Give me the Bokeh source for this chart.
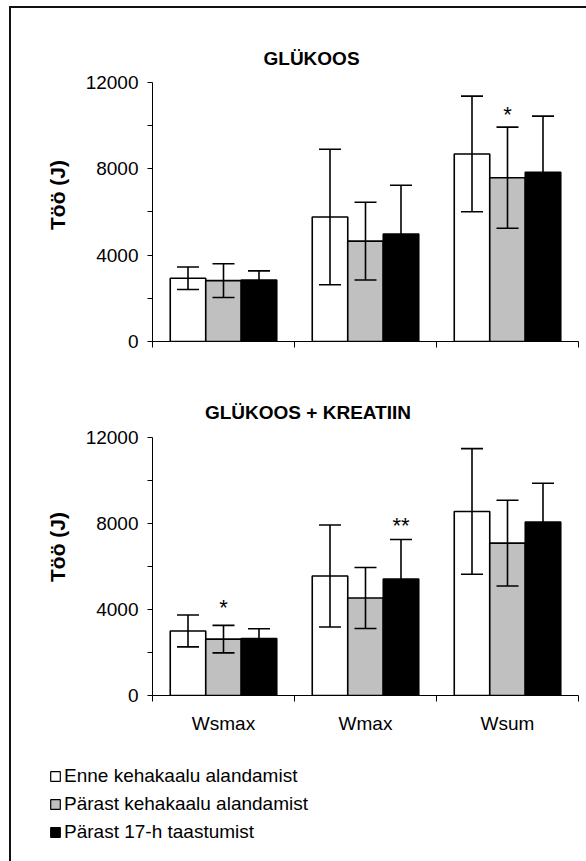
from bokeh.plotting import figure
from bokeh.models import (Range1d, FixedTicker, ColumnDataSource, Whisker, TeeHead,
                          Legend, LegendItem)
from bokeh.layouts import column
from bokeh.embed import file_html
from bokeh.resources import INLINE
from bokeh.core.properties import value

# ---------------- data ----------------
categories = ["Wsmax", "Wmax", "Wsum"]
series_names = ["Enne kehakaalu alandamist",
                "Pärast kehakaalu alandamist",
                "Pärast 17-h taastumist"]
panel_titles = ["GLÜKOOS", "GLÜKOOS + KREATIIN"]
y_axis_title = "Töö (J)"
y_major_ticks = [0, 4000, 8000, 12000]
y_minor_ticks = [2000, 6000, 10000]

# GLÜKOOS
gluc_enne = [2930, 5770, 8690]
gluc_enne_sd = [520, 3140, 2680]
gluc_parast = [2820, 4650, 7590]
gluc_parast_sd = [780, 1800, 2340]
gluc_taast = [2850, 4980, 7840]
gluc_taast_sd = [420, 2260, 2600]

# GLÜKOOS + KREATIIN
krea_enne = [3000, 5550, 8550]
krea_enne_sd = [740, 2370, 2920]
krea_parast = [2620, 4530, 7080]
krea_parast_sd = [640, 1420, 1990]
krea_taast = [2650, 5410, 8060]
krea_taast_sd = [450, 1840, 1800]

# significance marks: (category index, series index, text, y value)
gluc_marks = [(2, 1, "*", 10540)]
krea_marks = [(0, 1, "*", 4110), (1, 2, "**", 7900)]

# ---------------- style ----------------
FONT = "Liberation Sans"
COLORS = ["#ffffff", "#c0c0c0", "#000000"]
OFFSETS = [-0.25, 0.0, 0.25]
BAR_W = 0.25
W = 575


def make_panel(title, title_x, title_y, y_end, means, sds, marks, height, top, bottom, labels):
    p = figure(width=W, height=height, x_range=Range1d(0, len(categories)),
               y_range=Range1d(0, y_end), output_backend="svg", toolbar_location=None,
               min_border_left=141, min_border_right=8, min_border_top=top,
               min_border_bottom=bottom)
    p.outline_line_color = None
    p.grid.grid_line_color = None
    p.background_fill_color = "white"
    p.border_fill_color = "white"

    for s in range(len(series_names)):
        xs = [i + 0.5 + OFFSETS[s] for i in range(len(categories))]
        src = ColumnDataSource(dict(
            x=xs, top=means[s],
            upper=[m + d for m, d in zip(means[s], sds[s])],
            lower=[m - d for m, d in zip(means[s], sds[s])]))
        p.vbar(x="x", top="top", bottom=0, width=BAR_W, source=src,
               fill_color=COLORS[s], line_color="black", line_width=1.6)
        wk = Whisker(source=src, base="x", upper="upper", lower="lower",
                     line_color="black", line_width=1.6, level="overlay",
                     upper_head=TeeHead(size=22, line_color="black", line_width=1.6),
                     lower_head=TeeHead(size=22, line_color="black", line_width=1.6))
        p.add_layout(wk)

    mx = [m[0] + 0.5 + OFFSETS[m[1]] for m in marks]
    my = [m[3] for m in marks]
    mt = [m[2] for m in marks]
    p.text(x=mx, y=my, text=mt, text_font=value(FONT), text_font_size="22px",
           text_align="center", text_baseline="alphabetic", text_color="black")

    p.text(x=[title_x], y=[title_y], text=[title], text_font=value(FONT),
           text_font_size="19px", text_font_style="bold",
           text_align="center", text_baseline="middle", text_color="black")

    # y axis
    ya = p.yaxis[0]
    ya.bounds = (0, 12000)
    ya.ticker = FixedTicker(ticks=y_major_ticks, minor_ticks=y_minor_ticks)
    ya.major_tick_in = 0
    ya.major_tick_out = 5
    ya.minor_tick_in = 0
    ya.minor_tick_out = 5
    ya.axis_line_color = "black"
    ya.major_tick_line_color = "black"
    ya.minor_tick_line_color = "black"
    ya.major_label_text_font = FONT
    ya.major_label_text_font_size = "19px"
    ya.major_label_text_color = "black"
    ya.major_label_standoff = 9
    ya.axis_label = y_axis_title
    ya.axis_label_text_font = FONT
    ya.axis_label_text_font_size = "21px"
    ya.axis_label_text_font_style = "bold"
    ya.axis_label_text_color = "black"
    ya.axis_label_standoff = 14

    # x axis: boundaries as tick marks, category names at centres
    xa = p.xaxis[0]
    centres = [i + 0.5 for i in range(len(categories))]
    bounds = [float(i) for i in range(len(categories) + 1)]
    xa.ticker = FixedTicker(ticks=centres, minor_ticks=bounds)
    xa.major_tick_line_color = None
    xa.major_tick_in = 0
    xa.major_tick_out = 5
    xa.minor_tick_in = 0
    xa.minor_tick_out = 6
    xa.minor_tick_line_color = "black"
    xa.axis_line_color = "black"
    if labels:
        xa.major_label_overrides = {c: n for c, n in zip(centres, categories)}
        xa.major_label_text_font = FONT
        xa.major_label_text_font_size = "19px"
        xa.major_label_text_color = "black"
        xa.major_label_standoff = 11
    else:
        xa.major_label_overrides = {c: "" for c in centres}
        xa.major_label_text_font_size = "1px"
    return p


p1 = make_panel(panel_titles[0], 1.12, 13112, 13575,
                [gluc_enne, gluc_parast, gluc_taast],
                [gluc_enne_sd, gluc_parast_sd, gluc_taast_sd],
                gluc_marks, height=382, top=40, bottom=49, labels=False)
p2 = make_panel(panel_titles[1], 1.095, 13161, 13798,
                [krea_enne, krea_parast, krea_taast],
                [krea_enne_sd, krea_parast_sd, krea_taast_sd],
                krea_marks, height=370, top=8, bottom=65, labels=True)

# legend figure
pl = figure(width=W, height=101, x_range=Range1d(0, 1), y_range=Range1d(0, 1),
            output_backend="svg", toolbar_location=None,
            x_axis_location=None, y_axis_location=None,
            min_border_left=38, min_border_top=5, min_border_right=0, min_border_bottom=0)
pl.frame_align = False
pl.outline_line_color = None
pl.grid.grid_line_color = None
items = []
for name, col in zip(series_names, COLORS):
    r = pl.quad(left=[5], right=[6], top=[5], bottom=[4], fill_color=col,
                line_color="black", line_width=1.2)
    items.append(LegendItem(label=name, renderers=[r]))
leg = Legend(items=items, location="top_left", orientation="vertical",
             glyph_width=12, glyph_height=12, label_standoff=3, spacing=6,
             padding=0, margin=0, border_line_color=None, background_fill_alpha=0,
             label_text_font=FONT, label_text_font_size="19px",
             label_text_color="black", label_height=22)
pl.add_layout(leg)

layout = column(p1, p2, pl, spacing=0, margin=(6, 0, 0, 9),
                styles={"border-left": "2px solid #111111",
                        "border-top": "2px solid #111111"})

with open("out.html", "w") as f:
    f.write(file_html(layout, INLINE))
